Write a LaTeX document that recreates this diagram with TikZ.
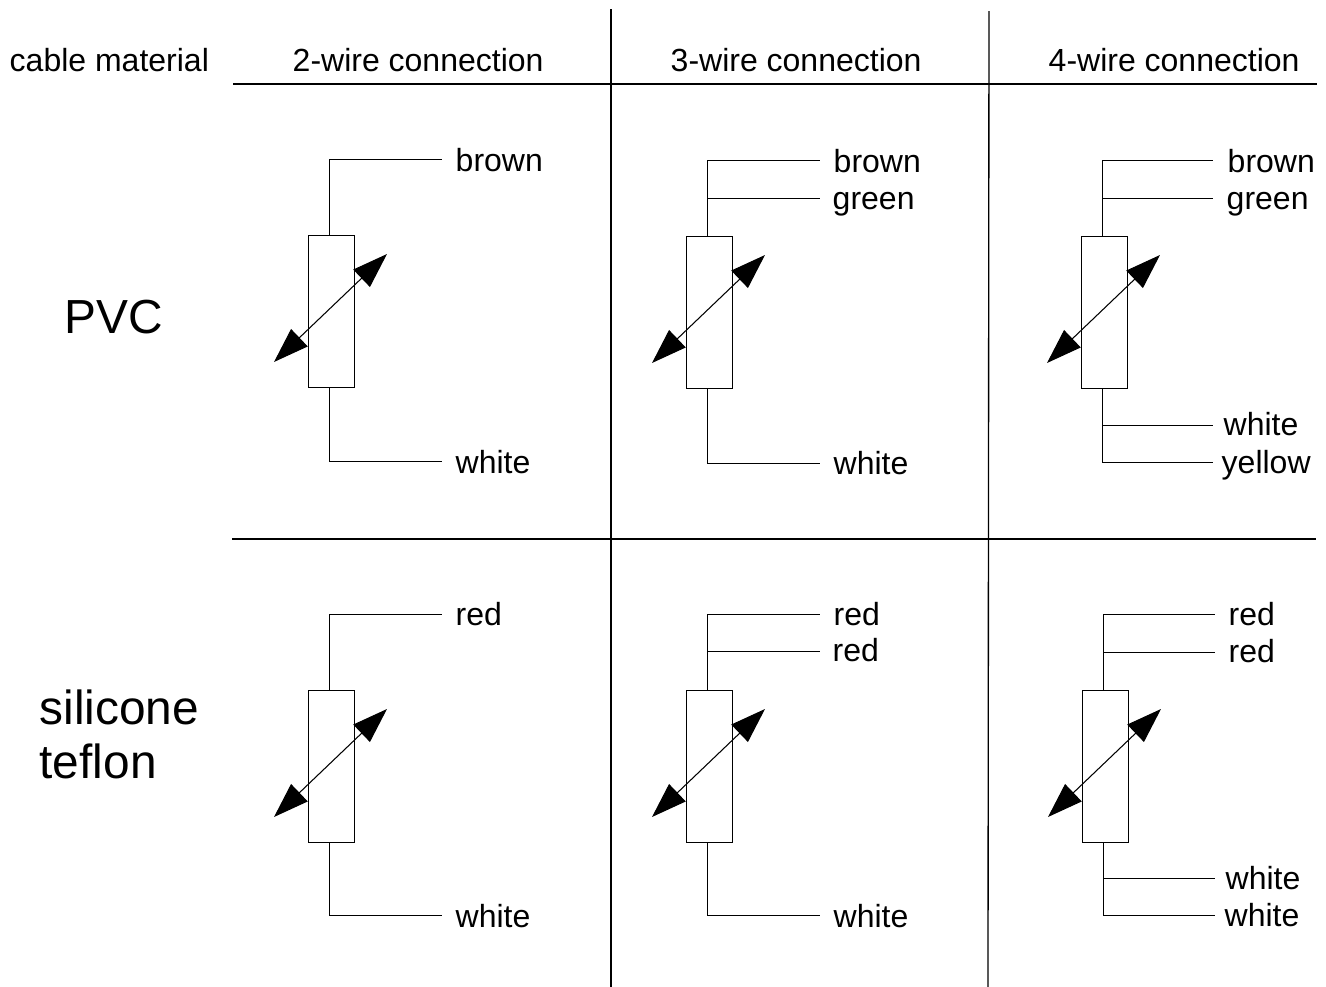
\documentclass[tikz,border=0pt]{standalone}
\usepackage{fontspec}
\setmainfont{Liberation Sans}
\usetikzlibrary{arrows.meta}
\tikzset{
    wire/.style={line width=0.38pt},
    label/.style={font=\fontsize{9.1}{11}\selectfont, inner sep=0pt, anchor=base west, xshift=-0.28pt},
    biglabel/.style={font=\fontsize{13.6}{15}\selectfont, inner sep=0pt, anchor=base west},
    sensor/.style={draw, line width=0.38pt, minimum width=12.95pt, minimum height=43.1pt, inner sep=0pt, anchor=north west},
    tipped/.style={line width=0.3pt, {Triangle[length=10pt,width=6.8pt]}-{Triangle[length=10pt,width=6.8pt]}}
}
\begin{document}
\begin{tikzpicture}[x=0.01cm,y=-0.01cm]
    \useasboundingbox (0,0) rectangle (1326,987);

    % Grid lines
    \coordinate (h1a) at (233,84);  \coordinate (h1b) at (1317,84);
    \coordinate (h2a) at (232,539); \coordinate (h2b) at (1316,539);
    \coordinate (v1a) at (611,9);   \coordinate (v1b) at (611,987);
    \coordinate (v2a) at (989,11);  \coordinate (v2b) at (988,987);
    \draw[wire] (h1a) -- (h1b);
    \draw[wire] (h2a) -- (h2b);
    \draw[wire] (v1a) -- (v1b);
    \draw[wire] (v2a) -- (v2b);

    % Headers
    \node[label] (hmat) at (10,71) {cable material};
    \node[label] (hb) at (293,71) {2-wire connection};
    \node[label] (hc) at (671,71) {3-wire connection};
    \node[label] (hd) at (1049,71) {4-wire connection};
    \node[biglabel] (pvc) at (64,333) {PVC};
    \node[biglabel] (sil) at (39,724) {silicone};
    \node[biglabel] (tef) at (39,778) {teflon};

    % Resistors: x, y, name
    \foreach \rx/\ry/\rn in {308/235/ra, 686/236/rb, 1081/236/rc, 308/690/rd, 686/690/re, 1082/690/rf} {
        \node[sensor] (\rn) at (\rx,\ry) {};
        \coordinate (\rn sw) at (\rx-34,\ry+127);
        \coordinate (\rn ne) at (\rx+79,\ry+19);
        \draw[tipped] (\rn sw) -- (\rn ne);
    }

    % Two-wire column
    \node[label] (a1) at (456,171) {brown};
    \node[label] (a2) at (456,473) {white};
    \draw[wire] ([xshift=-0.55pt]ra.north) |- (442,159.5);
    \draw[wire] ([xshift=-0.55pt]ra.south) |- (442,461.5);
    \node[label] (d1) at (456,625) {red};
    \node[label] (d2) at (456,927) {white};
    \draw[wire] ([xshift=-0.55pt]rd.north) |- (442,614.5);
    \draw[wire] ([xshift=-0.55pt]rd.south) |- (442,915.5);

    % Three-wire column
    \node[label] (b1) at (834,172) {brown};
    \node[label] (b2) at (833,209) {green};
    \node[label] (b3) at (834,474) {white};
    \draw[wire] ([xshift=-0.55pt]rb.north) |- (820,160.5);
    \draw[wire] (707.5,198.5) -- (820,198.5);
    \draw[wire] ([xshift=-0.55pt]rb.south) |- (820,463.5);
    \node[label] (e1) at (834,625) {red};
    \node[label] (e2) at (833,661) {red};
    \node[label] (e3) at (834,927) {white};
    \draw[wire] ([xshift=-0.55pt]re.north) |- (820,614.5);
    \draw[wire] (707.5,651.5) -- (820,651.5);
    \draw[wire] ([xshift=-0.55pt]re.south) |- (820,915.5);

    % Four-wire column
    \node[label] (c1) at (1228,172) {brown};
    \node[label] (c2) at (1227,209) {green};
    \node[label] (c3) at (1224,435) {white};
    \node[label] (c4) at (1222,473) {yellow};
    \draw[wire] ([xshift=-0.55pt]rc.north) |- (1213,160.5);
    \draw[wire] (1102.5,198.5) -- (1213,198.5);
    \draw[wire] ([xshift=-0.55pt]rc.south) |- (1213,462.5);
    \draw[wire] (1102.5,425.5) -- (1213,425.5);
    \node[label] (f1) at (1229,625) {red};
    \node[label] (f2) at (1229,662) {red};
    \node[label] (f3) at (1226,889) {white};
    \node[label] (f4) at (1225,926) {white};
    \draw[wire] ([xshift=-0.55pt]rf.north) |- (1215,614.5);
    \draw[wire] (1103.5,652.5) -- (1215,652.5);
    \draw[wire] ([xshift=-0.55pt]rf.south) |- (1215,915.5);
    \draw[wire] (1103.5,878.5) -- (1215,878.5);
\end{tikzpicture}
\end{document}
